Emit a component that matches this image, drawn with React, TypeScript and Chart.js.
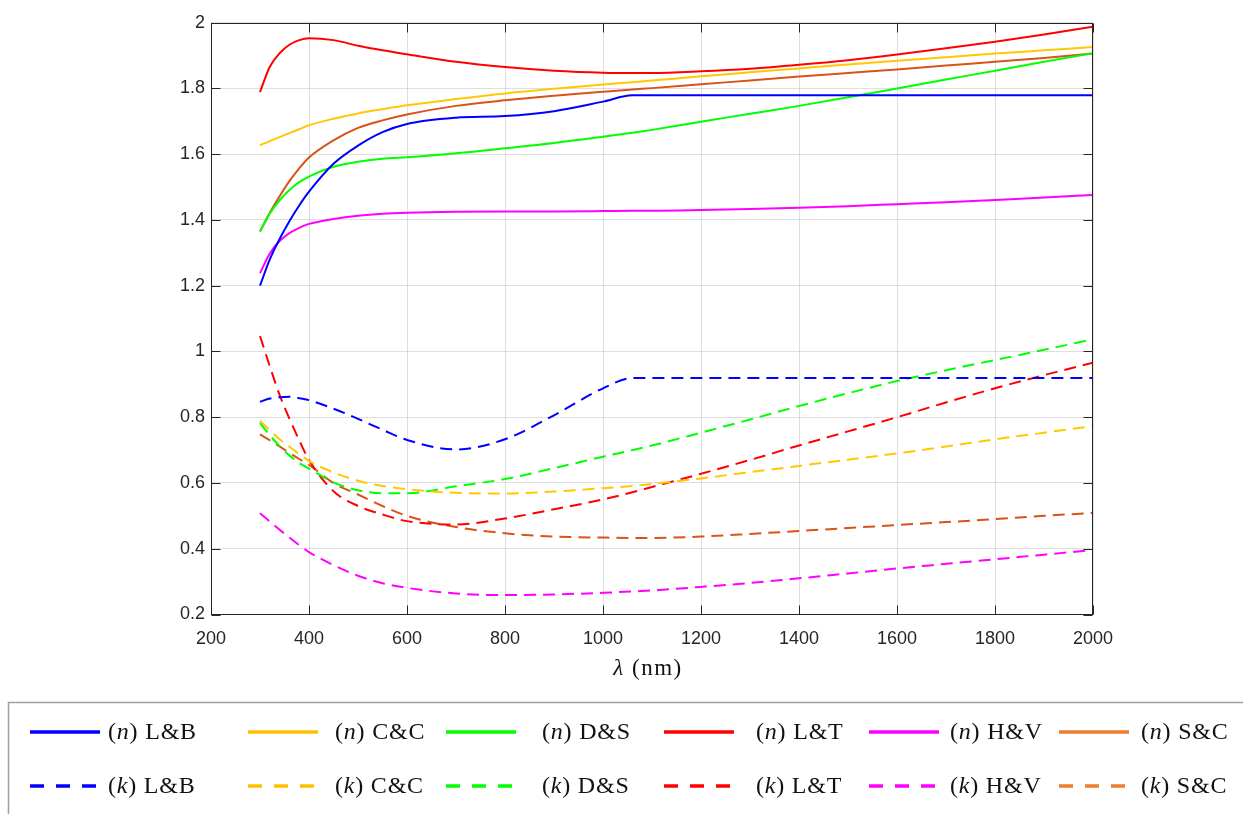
import React, { useEffect, useRef } from "react";
import { Chart, registerables } from "chart.js";

Chart.register(...registerables);

// ---------- data ----------
const wavelength = [300, 320, 340, 360, 380, 400, 450, 500, 550, 600, 700, 800, 900, 1000, 1060, 1100, 1200, 1300, 1400, 1500, 1600, 1700, 1800, 1900, 2000];

const xTickValues = [200, 400, 600, 800, 1000, 1200, 1400, 1600, 1800, 2000];
const xTickLabels = ["200", "400", "600", "800", "1000", "1200", "1400", "1600", "1800", "2000"];
const yTickValues = [0.2, 0.4, 0.6, 0.8, 1, 1.2, 1.4, 1.6, 1.8, 2];
const yTickLabels = ["0.2", "0.4", "0.6", "0.8", "1", "1.2", "1.4", "1.6", "1.8", "2"];

const seriesNames = ["L&B", "C&C", "D&S", "L&T", "H&V", "S&C"];

// refractive index n
const nLB = [1.200, 1.280, 1.342, 1.396, 1.444, 1.486, 1.571, 1.626, 1.667, 1.692, 1.711, 1.716, 1.731, 1.760, 1.779, 1.779, 1.779, 1.779, 1.779, 1.779, 1.779, 1.779, 1.779, 1.779, 1.779];
const nCC = [1.627, 1.640, 1.652, 1.664, 1.676, 1.688, 1.708, 1.724, 1.737, 1.749, 1.768, 1.785, 1.799, 1.812, 1.819, 1.824, 1.837, 1.849, 1.861, 1.873, 1.884, 1.895, 1.906, 1.916, 1.926];
const nDS = [1.365, 1.420, 1.460, 1.491, 1.515, 1.532, 1.562, 1.577, 1.586, 1.591, 1.603, 1.618, 1.634, 1.653, 1.665, 1.674, 1.699, 1.723, 1.747, 1.773, 1.800, 1.827, 1.854, 1.881, 1.907];
const nLT = [1.789, 1.866, 1.907, 1.933, 1.947, 1.953, 1.947, 1.930, 1.916, 1.904, 1.881, 1.865, 1.854, 1.848, 1.847, 1.847, 1.852, 1.860, 1.872, 1.886, 1.903, 1.922, 1.942, 1.964, 1.988];
const nHV = [1.238, 1.298, 1.336, 1.360, 1.376, 1.388, 1.403, 1.413, 1.419, 1.422, 1.425, 1.426, 1.426, 1.427, 1.428, 1.428, 1.430, 1.433, 1.437, 1.442, 1.448, 1.454, 1.461, 1.468, 1.476];
const nSC = [1.365, 1.422, 1.472, 1.518, 1.557, 1.590, 1.642, 1.680, 1.703, 1.721, 1.747, 1.764, 1.778, 1.790, 1.797, 1.801, 1.813, 1.824, 1.836, 1.847, 1.858, 1.870, 1.881, 1.893, 1.906];

// extinction coefficient k
const kLB = [0.847, 0.857, 0.861, 0.862, 0.858, 0.852, 0.826, 0.795, 0.762, 0.731, 0.702, 0.733, 0.806, 0.888, 0.919, 0.919, 0.919, 0.919, 0.919, 0.919, 0.919, 0.919, 0.919, 0.919, 0.919];
const kCC = [0.789, 0.760, 0.733, 0.710, 0.688, 0.667, 0.632, 0.607, 0.591, 0.581, 0.570, 0.568, 0.574, 0.584, 0.591, 0.597, 0.614, 0.633, 0.652, 0.671, 0.690, 0.711, 0.733, 0.753, 0.773];
const kDS = [0.783, 0.745, 0.712, 0.684, 0.661, 0.644, 0.602, 0.578, 0.569, 0.569, 0.590, 0.612, 0.645, 0.680, 0.700, 0.714, 0.753, 0.793, 0.834, 0.873, 0.910, 0.943, 0.974, 1.005, 1.037];
const kLT = [1.047, 0.955, 0.868, 0.796, 0.730, 0.670, 0.575, 0.530, 0.504, 0.484, 0.474, 0.492, 0.520, 0.550, 0.572, 0.588, 0.628, 0.670, 0.714, 0.757, 0.800, 0.845, 0.888, 0.928, 0.966];
const kHV = [0.508, 0.483, 0.458, 0.434, 0.411, 0.390, 0.350, 0.318, 0.295, 0.281, 0.264, 0.259, 0.261, 0.266, 0.270, 0.273, 0.284, 0.296, 0.310, 0.325, 0.340, 0.354, 0.368, 0.382, 0.396];
const kSC = [0.748, 0.730, 0.711, 0.692, 0.673, 0.655, 0.600, 0.565, 0.530, 0.500, 0.466, 0.447, 0.437, 0.434, 0.433, 0.433, 0.437, 0.445, 0.454, 0.463, 0.472, 0.481, 0.490, 0.500, 0.509];

const nSeries = [nLB, nCC, nDS, nLT, nHV, nSC];
const kSeries = [kLB, kCC, kDS, kLT, kHV, kSC];

// ---------- styles ----------
const lineColors = ["#0000FF", "#FFC800", "#00FF00", "#FF0000", "#FF00FF", "#D95319"];
const legendColors = ["#0000FF", "#FFC000", "#00FF00", "#FF0000", "#FF00FF", "#ED7D31"];
const AXIS_COLOR = "#262626";
const GRID_COLOR = "rgba(38,38,38,0.15)";
const TICK_FONT = { family: "'Liberation Sans', Arial, sans-serif", size: 18 };
const SERIF = "'Liberation Serif', 'Times New Roman', serif";

const legendLineX = [30, 248, 446, 664, 869, 1059];
const legendTextX = [108, 335, 542, 756, 950, 1141];
const legendRowY = [732, 786];

type Part = { t: string; i: boolean };

function drawRich(ctx: any, parts: Part[], x: number, y: number, size: number, spacing: number) {
  let cx = x;
  ctx.letterSpacing = `${spacing}px`;
  for (const p of parts) {
    ctx.font = `${p.i ? "italic " : ""}${size}px ${SERIF}`;
    ctx.fillText(p.t, cx, y);
    cx += ctx.measureText(p.t).width;
  }
  ctx.letterSpacing = "0px";
}
function richWidth(ctx: any, parts: Part[], size: number, spacing: number) {
  let w = 0;
  ctx.letterSpacing = `${spacing}px`;
  for (const p of parts) {
    ctx.font = `${p.i ? "italic " : ""}${size}px ${SERIF}`;
    w += ctx.measureText(p.t).width;
  }
  ctx.letterSpacing = "0px";
  return w;
}

const decorPlugin = {
  id: "decor",
  afterDraw(chart: any) {
    const { ctx, chartArea: a, scales } = chart;
    ctx.save();
    // axes box
    const L = Math.round(a.left) + 0.5;
    const R = Math.round(a.right) - 0.5;
    const T = Math.round(a.top) + 0.5;
    const B = Math.round(a.bottom) - 0.5;
    ctx.strokeStyle = AXIS_COLOR;
    ctx.lineWidth = 1;
    ctx.strokeRect(L, T, R - L, B - T);
    // inward ticks
    const tl = 9;
    ctx.beginPath();
    for (const v of xTickValues) {
      const px = Math.round(scales.x.getPixelForValue(v)) + 0.5;
      ctx.moveTo(px, B); ctx.lineTo(px, B - tl);
      ctx.moveTo(px, T); ctx.lineTo(px, T + tl);
    }
    for (const v of yTickValues) {
      const py = Math.round(scales.y.getPixelForValue(v)) + 0.5;
      ctx.moveTo(L, py); ctx.lineTo(L + tl, py);
      ctx.moveTo(R, py); ctx.lineTo(R - tl, py);
    }
    ctx.stroke();

    // x-axis title
    ctx.fillStyle = "#111";
    ctx.textBaseline = "alphabetic";
    const titleParts: Part[] = [{ t: "λ", i: true }, { t: " (nm)", i: false }];
    const tw = richWidth(ctx, titleParts, 23, 1.5);
    drawRich(ctx, titleParts, (a.left + a.right) / 2 - 4 - tw / 2, 675, 23, 1.5);

    // legend box
    ctx.strokeStyle = "#a0a0a0";
    ctx.lineWidth = 1.5;
    ctx.strokeRect(8.5, 702.5, 1400, 300);

    ctx.textBaseline = "middle";
    for (let row = 0; row < 2; row++) {
      const y = legendRowY[row];
      for (let c = 0; c < seriesNames.length; c++) {
        ctx.strokeStyle = legendColors[c];
        ctx.lineWidth = 3.5;
        ctx.setLineDash(row === 0 ? [] : [14, 12]);
        ctx.beginPath();
        ctx.moveTo(legendLineX[c], y);
        ctx.lineTo(legendLineX[c] + 70, y);
        ctx.stroke();
        ctx.setLineDash([]);
        ctx.fillStyle = "#111";
        drawRich(ctx, [
          { t: "(", i: false },
          { t: row === 0 ? "n" : "k", i: true },
          { t: ") " + seriesNames[c], i: false },
        ], legendTextX[c], y + 1, 24, 0.8);
      }
    }
    ctx.restore();
  },
};

export default function App() {
  const ref = useRef<HTMLCanvasElement | null>(null);
  useEffect(() => {
    if (!ref.current) return;
    const datasets: any[] = [];
    for (let c = 0; c < seriesNames.length; c++) {
      datasets.push({
        label: "(n) " + seriesNames[c],
        data: wavelength.map((x, i) => ({ x, y: nSeries[c][i] })),
        borderColor: lineColors[c],
        borderWidth: 2,
        pointRadius: 0,
        fill: false,
        cubicInterpolationMode: "monotone",
      });
    }
    for (let c = 0; c < seriesNames.length; c++) {
      datasets.push({
        label: "(k) " + seriesNames[c],
        data: wavelength.map((x, i) => ({ x, y: kSeries[c][i] })),
        borderColor: lineColors[c],
        borderWidth: 2,
        borderDash: [12, 7],
        pointRadius: 0,
        fill: false,
        cubicInterpolationMode: "monotone",
      });
    }
    const chart = new Chart(ref.current, {
      type: "line",
      data: { datasets },
      options: {
        responsive: false,
        animation: false,
        layout: { padding: { left: 0, top: 22.7, right: 150, bottom: 139.5 } },
        plugins: { legend: { display: false }, tooltip: { enabled: false } },
        scales: {
          x: {
            type: "linear",
            min: 200,
            max: 2000,
            afterBuildTicks: (s: any) => { s.ticks = xTickValues.map((v) => ({ value: v })); },
            afterFit: (s: any) => { s.height = 60; },
            ticks: {
              color: AXIS_COLOR,
              font: TICK_FONT,
              padding: 14,
              maxRotation: 0,
              autoSkip: false,
              callback: (_v: any, i: number) => xTickLabels[i],
            },
            grid: { color: GRID_COLOR, drawTicks: false },
            border: { display: false },
          },
          y: {
            type: "linear",
            min: 0.2,
            max: 2,
            afterBuildTicks: (s: any) => { s.ticks = yTickValues.map((v) => ({ value: v })); },
            afterFit: (s: any) => { s.width = 211; },
            ticks: {
              color: AXIS_COLOR,
              font: TICK_FONT,
              padding: 6,
              autoSkip: false,
              callback: (_v: any, i: number) => yTickLabels[i],
            },
            grid: { color: GRID_COLOR, drawTicks: false },
            border: { display: false },
          },
        },
      },
      plugins: [decorPlugin],
    } as any);
    return () => chart.destroy();
  }, []);
  return (
    <div style={{ position: "fixed", left: 0, top: 0, width: 1243, height: 814, background: "#fff" }}>
      <canvas ref={ref} width={1243} height={814} style={{ display: "block" }} />
    </div>
  );
}
